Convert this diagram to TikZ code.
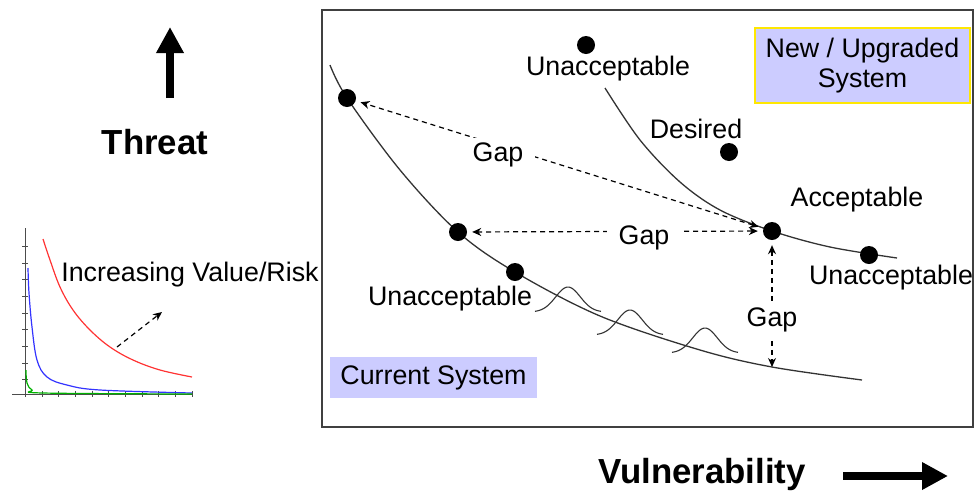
\documentclass[tikz,border=0pt]{standalone}
\usepackage{fontspec}
\setmainfont{Liberation Sans}
\usetikzlibrary{arrows.meta}
\definecolor{lav}{HTML}{CCCCFF}
\definecolor{boxline}{HTML}{404040}
\begin{document}
\begin{tikzpicture}[x=1pt,y=-1pt,
  lbl/.style={font=\fontsize{26.8}{30}\selectfont, inner sep=1pt},
  gaplbl/.style={lbl, fill=white, inner xsep=12pt, inner ysep=5pt},
  bigl/.style={font=\fontsize{34.8}{38}\selectfont\bfseries, inner sep=0pt},
  dot/.style={circle, fill=black, minimum size=18pt, inner sep=0pt},
  curveline/.style={draw=black!80, line width=1.3pt},
  gaparrow/.style={dashed, dash pattern=on 5pt off 4pt, line width=1.2pt,
     {Stealth[length=9pt,width=8pt]}-{Stealth[length=9pt,width=8pt]},
     shorten <=5pt, shorten >=5pt},
  thickarrow/.style={line width=8pt, -{Triangle[length=26pt,width=26pt]}},
  sysbox/.style={fill=lav, font=\fontsize{26.8}{30}\selectfont, align=center}
]
\useasboundingbox (0,0) rectangle (976,491);

% ---- small chart on the left ----
\draw[black!70, line width=1pt] (12,394) -- (193,394);
\draw[black!70, line width=1pt] (25,228) -- (25,397);
\foreach \y in {246,263,279,296,313,329,346,363,379}
  \draw[black!70, line width=0.8pt] (22,\y) -- (28,\y);
\foreach \x in {42,58,75,92,108,125,142,158,175,192}
  \draw[black!70, line width=0.8pt] (\x,391) -- (\x,397);
\draw[red!80, line width=1.2pt] plot[smooth, tension=0.6] coordinates
  {(43,239) (50,260) (60,287) (73,310) (90,330) (110,347) (133,360) (160,370) (192,377)};
\draw[blue!80, line width=1.2pt] plot[smooth, tension=0.6] coordinates
  {(28,268) (29,293) (32,327) (37,360) (47,377) (67,385) (100,390) (192,393)};
\draw[green!70!black, line width=1.2pt] plot[smooth, tension=0.6] coordinates
  {(26,370) (27,383) (32,390) (43,393) (192,394)};
\coordinate (ivs) at (117,347);
\coordinate (ive) at (162,312);
\draw[dashed, dash pattern=on 5pt off 4pt, line width=1.2pt, -{Stealth[length=9pt,width=8pt]}] (ivs) -- (ive);
\node[lbl] (incr) at (190,275) {Increasing Value/Risk};

% ---- axis labels ----
\node[bigl] (threat) at (155,142) {Threat};
\coordinate (tA) at (170,98);
\coordinate (tB) at (170,27);
\draw[thickarrow] (tA) -- (tB);
\node[bigl] (vuln) at (702,474) {Vulnerability};
\coordinate (vA) at (843,476);
\coordinate (vB) at (948,476);
\draw[thickarrow] (vA) -- (vB);

% ---- main frame ----
\node[draw=boxline, line width=1.5pt, minimum width=651pt, minimum height=417pt, inner sep=0pt] (frame) at (647.5,218.5) {};

% ---- system boxes ----
\node[sysbox, draw=yellow!90!orange, line width=1.5pt, minimum width=215pt, minimum height=75pt, inner sep=2pt] (newsys) at (862.5,65.5) {New / Upgraded\\System};
\node[sysbox, minimum width=207pt, minimum height=41pt, inner sep=2pt] (cursys) at (433.5,377.5) {Current System};

% ---- curves ----
\draw[curveline] plot[smooth, tension=0.55] coordinates
  {(330,65) (347,98) (400,170) (458,232) (515,272) (600,316) (700,350) (772,367) (862,380)};
\draw[curveline] plot[smooth, tension=0.55] coordinates
  {(605,88) (640,140) (680,182) (720,210) (772,231) (830,247) (897,258)};

% bell-shaped bumps
\foreach \cx/\by in {568/312, 630/335, 705/353}
  \draw[curveline, line width=1.1pt] plot[domain=-1:1, samples=40, smooth]
     ({\cx + 33*\x}, {\by - 25*exp(-(1.9*\x)^2)});

% ---- dots ----
\node[dot] (c1) at (347,98) {};
\node[dot] (c2) at (458,232) {};
\node[dot] (c3) at (515,272) {};
\node[dot] (u1) at (586,45) {};
\node[dot] (des) at (729,152) {};
\node[dot] (acc) at (772,231) {};
\node[dot] (u2) at (869,255) {};
\coordinate (low) at (772,367);

% ---- gap arrows ----
\draw[gaparrow] (acc) -- (c1);
\draw[gaparrow] (acc) -- (c2);
\draw[gaparrow, shorten >=0pt] (acc) -- (low);

% ---- labels ----
\node[lbl] (lu1) at (608,69) {Unacceptable};
\node[lbl] (ldes) at (696,129) {Desired};
\node[lbl] (lacc) at (857,200) {Acceptable};
\node[lbl] (lu2) at (891,278) {Unacceptable};
\node[lbl] (lu3) at (450,299) {Unacceptable};
\node[gaplbl] (g1) at (498,155) {Gap};
\node[gaplbl] (g2) at (644,238) {Gap};
\node[gaplbl, inner xsep=3pt] (g3) at (772,320) {Gap};
\end{tikzpicture}
\end{document}
